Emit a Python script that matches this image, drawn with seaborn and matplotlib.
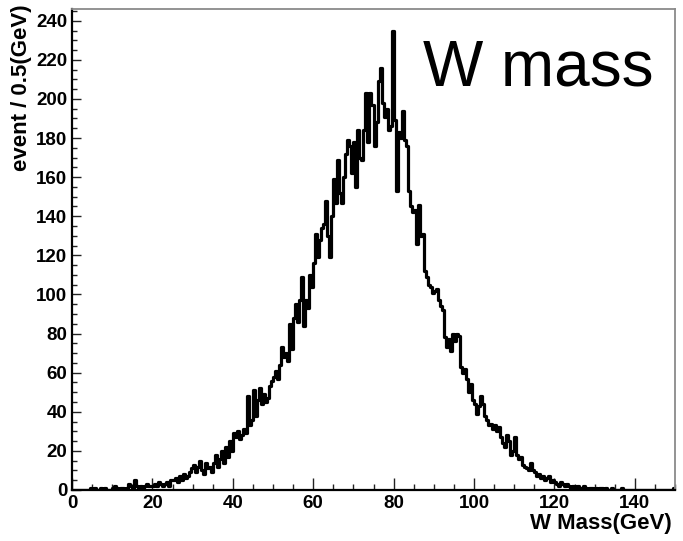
import numpy as np
import pandas as pd
import matplotlib
matplotlib.use("Agg")
import matplotlib.pyplot as plt
import seaborn as sns
from matplotlib.ticker import MultipleLocator

# ---- data: W mass histogram, 0.5 GeV bins from 0 to 150 GeV ----
bin_width = 0.5
x_min, x_max = 0.0, 150.0
counts = [
    0, 0, 0, 0, 0, 0, 0, 0, 0, 1,            # 0-5
    0, 1, 0, 0, 1, 0, 1, 0, 0, 0,            # 5-10
    1, 2, 1, 0, 1, 1, 0, 1, 3, 2,            # 10-15
    1, 5, 2, 1, 2, 1, 2, 3, 2, 2,            # 15-20
    2, 3, 2, 4, 3, 2, 3, 4, 2, 5,            # 20-25
    5, 6, 4, 7, 5, 8, 6, 7, 9, 11,           # 25-30
    13, 9, 12, 15, 10, 8, 14, 11, 12, 9,     # 30-35
    14, 18, 12, 16, 20, 14, 22, 17, 25, 20,  # 35-40
    29, 27, 30, 26, 28, 31, 29, 48, 33, 36,  # 40-45
    51, 38, 46, 52, 44, 49, 45, 47, 53, 56,  # 45-50
    58, 61, 57, 64, 73, 68, 70, 66, 85, 72,  # 50-55
    88, 95, 86, 97, 109, 84, 97, 93, 110, 104,     # 55-60
    116, 131, 119, 128, 134, 136, 148, 130, 119, 140,  # 60-65
    159, 147, 169, 152, 147, 160, 172, 179, 176, 162,  # 65-70
    178, 155, 184, 170, 169, 184, 203, 178, 203, 197,  # 70-75
    176, 188, 209, 216, 198, 191, 195, 184, 186, 235,  # 75-80
    189, 153, 183, 180, 194, 179, 176, 153, 145, 142,  # 80-85
    143, 126, 146, 130, 131, 112, 109, 105, 104, 101,  # 85-90
    102, 103, 97, 94, 92, 78, 73, 77, 71, 80,          # 90-95
    76, 80, 79, 63, 60, 62, 57, 50, 54, 46,            # 95-100
    44, 39, 43, 48, 44, 38, 36, 33, 34, 31,            # 100-105
    33, 30, 32, 27, 24, 22, 28, 25, 18, 20,            # 105-110
    27, 18, 16, 17, 13, 12, 11, 10, 14, 10,            # 110-115
    9, 7, 8, 6, 7, 5, 6, 7, 4, 5,                      # 115-120
    4, 3, 2, 4, 3, 2, 3, 2, 1, 2,                      # 120-125
    1, 2, 1, 1, 2, 1, 0, 1, 1, 0,                      # 125-130
    1, 0, 1, 1, 0, 1, 0, 0, 1, 0,                      # 130-135
    0, 0, 0, 1, 0, 0, 0, 0, 0, 0,                      # 135-140
    0, 0, 0, 0, 0, 0, 0, 0, 0, 0,                      # 140-145
    0, 0, 0, 0, 0, 0, 0, 0, 0, 1,                      # 145-150
]
x_ticks = [0, 20, 40, 60, 80, 100, 120, 140]
y_ticks = [0, 20, 40, 60, 80, 100, 120, 140, 160, 180, 200, 220, 240]
title_text = "W mass"
x_label = "W Mass(GeV)"
y_label = "event / 0.5(GeV)"

centers = x_min + bin_width * (np.arange(len(counts)) + 0.5)
df = pd.DataFrame({"mass": centers, "events": np.asarray(counts, dtype=float)})

# ---- style ----
sns.set_style("white")
plt.rcParams["font.family"] = ["Liberation Sans", "DejaVu Sans"]

W, H = 683, 541
fig = plt.figure(figsize=(W / 100, H / 100), dpi=100)
L, R, B, T = 72, 675, 490, 9
ax = fig.add_axes([L / W, 1 - B / H, (R - L) / W, (B - T) / H])

sns.histplot(data=df, x="mass", weights="events", binwidth=bin_width,
             binrange=(x_min, x_max), element="step", fill=False,
             color="black", linewidth=2.3, ax=ax)

ax.set_xlim(x_min, x_max)
ax.set_ylim(0, 246)

# spines: ROOT-like frame
for s in ["left", "bottom"]:
    ax.spines[s].set_color("black")
    ax.spines[s].set_linewidth(1.6)
for s in ["top", "right"]:
    ax.spines[s].set_visible(True)
    ax.spines[s].set_color("#8a8a8a")
    ax.spines[s].set_linewidth(1.3)

ax.set_xticks(x_ticks)
ax.set_yticks(y_ticks)
ax.xaxis.set_minor_locator(MultipleLocator(5))
ax.yaxis.set_minor_locator(MultipleLocator(5))
ax.tick_params(axis="x", which="major", direction="in", length=8.5, width=1.0,
               color="#222222", labelcolor="black", labelsize=13.5, pad=3.5,
               bottom=True, top=False)
ax.tick_params(axis="x", which="minor", direction="in", length=4.3, width=1.0,
               color="#222222", bottom=True, top=False)
ax.tick_params(axis="y", which="major", direction="in", length=6.5, width=1.0,
               color="#222222", labelcolor="black", labelsize=13.5, pad=3.5,
               left=True, right=False)
ax.tick_params(axis="y", which="minor", direction="in", length=3.6, width=1.0,
               color="#222222", left=True, right=False)
for lab in ax.get_xticklabels() + ax.get_yticklabels():
    lab.set_fontweight("bold")

ax.set_xlabel(x_label, fontsize=16, fontweight="bold", color="black")
ax.xaxis.set_label_coords((672 - L) / (R - L), (B - 524) / (B - T))
ax.xaxis.label.set_ha("right")
ax.xaxis.label.set_va("center")

ax.set_ylabel(y_label, fontsize=16, fontweight="bold", color="black")
ax.yaxis.label.set_rotation_mode("anchor")
ax.yaxis.label.set_ha("right")
ax.yaxis.label.set_va("center")
ax.yaxis.set_label_coords((22 - L) / (R - L), (B - 4) / (B - T))

fig.text(423 / W, 1 - 85 / H, title_text, fontsize=46, ha="left",
         va="baseline", color="black")

fig.savefig("out.png", dpi=100, facecolor="white")
